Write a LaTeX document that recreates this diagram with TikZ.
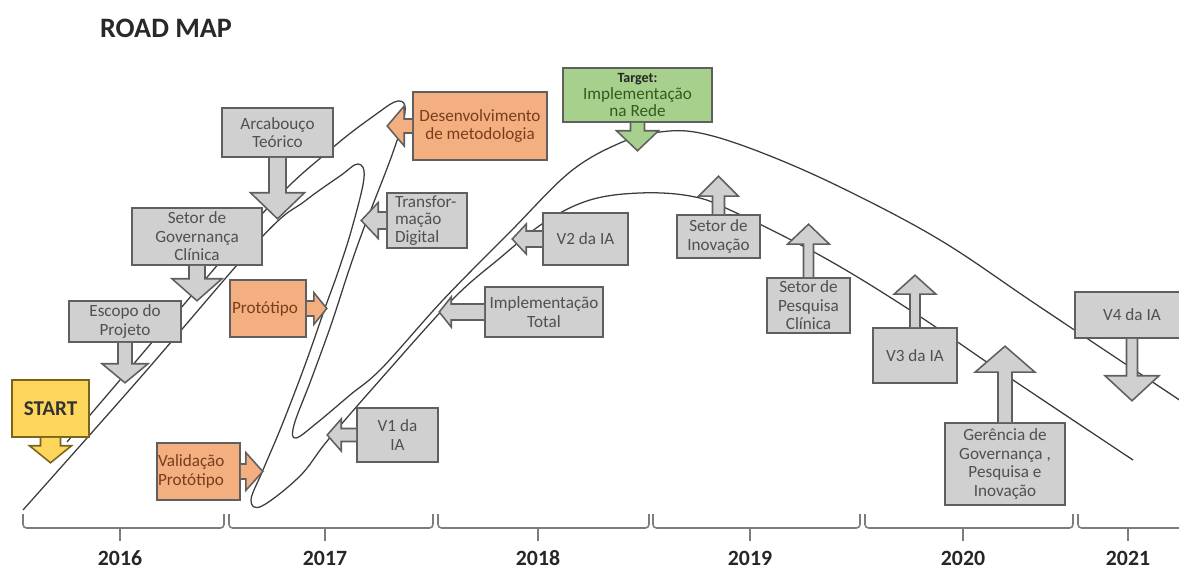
\documentclass[tikz,border=0pt]{standalone}
\usepackage{fontspec}
\setmainfont{Carlito}
\usetikzlibrary{calc}

\definecolor{boxgray}{RGB}{208,208,208}
\definecolor{boxline}{RGB}{95,95,95}
\definecolor{graytext}{RGB}{80,80,80}
\definecolor{boxorange}{RGB}{244,175,128}
\definecolor{orangetext}{RGB}{120,62,28}
\definecolor{boxgreen}{RGB}{168,208,141}
\definecolor{greentext}{RGB}{52,90,32}
\definecolor{boxyellow}{RGB}{255,214,92}
\definecolor{yellowline}{RGB}{120,100,30}
\definecolor{roadcol}{RGB}{60,60,60}
\definecolor{axiscol}{RGB}{125,125,125}
\definecolor{titlecol}{RGB}{40,40,40}

\newlength{\pxu}\setlength{\pxu}{0.025cm}
\newcommand{\boxfont}{\fontsize{12.2}{13.2}\selectfont}

% block arrow: style, base point, rotation, length, head length, shaft half width, head half width
\newcommand{\calloutarrow}[7]{%
  \draw[#1, shift={(#2)}, rotate=#3] (-#6,0) -- (-#6,#4-#5) -- (-#7,#4-#5)
    -- (0,#4) -- (#7,#4-#5) -- (#6,#4-#5) -- (#6,0);}

% year bracket: left, right, tick, label, name
\newcommand{\yearspan}[5]{%
  \draw[axisline] (#1,514) -- (#1,528) -- (#2,528) -- (#2,514);
  \draw[axisline] (#3,528) -- (#3,541);
  \node[yearlabel] (#5) at (#3,558) {#4};}

\begin{document}
\begin{tikzpicture}[x=0.025cm, y=-0.025cm,
  box/.style={draw=boxline, line width=1.1pt, fill=boxgray, text=graytext,
              font=\boxfont, align=center, inner sep=0pt},
  boxsize/.style 2 args={minimum width=#1*\pxu, minimum height=#2*\pxu},
  orangebox/.style={box, fill=boxorange, text=orangetext},
  greenbox/.style={box, fill=boxgreen, text=greentext},
  startbox/.style={box, fill=boxyellow, draw=yellowline, text=black!80},
  grayarrow/.style={draw=boxline, line width=1.1pt, fill=boxgray, line join=miter},
  orangearrow/.style={grayarrow, fill=boxorange},
  greenarrow/.style={grayarrow, fill=boxgreen},
  startarrow/.style={grayarrow, fill=boxyellow, draw=yellowline},
  road/.style={draw=roadcol, line width=0.9pt},
  axisline/.style={line width=1.1pt, draw=axiscol, rounded corners=2.5pt},
  yearlabel/.style={font=\fontsize{15.5}{17}\selectfont\bfseries, text=black!85}
]
\useasboundingbox (0,0) rectangle (1179,570);
\clip (0,0) rectangle (1179,570);

\node[font=\fontsize{20}{22}\selectfont\bfseries, text=titlecol] (title) at (166,28) {ROAD MAP};

% the road
\draw[road] plot[smooth, tension=0.6] coordinates {(23,510) (140,378) (262,237) (305,201)
  (340,176) (358,164) (364,178) (352,228) (338,272) (325,308) (305,365) (282,425) (263,470)
  (251,500) (262,506) (300,476) (328,440) (380,380) (452,300) (500,258) (545,222) (590,200)
  (640,193) (690,196) (730,210) (823,257) (913,312) (1013,380) (1133,460)};
\draw[road] plot[smooth, tension=0.6] coordinates {(67,442) (120,380) (263,213) (330,150)
  (375,115) (398,101) (405,112) (392,155) (365,225) (349,270) (331,325) (311,380) (294,425)
  (296,438) (318,422) (350,395) (382,368) (443,300) (510,232) (570,172) (620,143) (660,132)
  (700,133) (760,152) (840,187) (940,240) (1040,307) (1190,407)};

% milestones
\node[startbox, boxsize={77}{57}, font=\fontsize{15}{16}\selectfont\bfseries] (start) at (50.5,408.5) {START};
\node[box, boxsize={112}{41}] (escopo) at (125,321.5) {Escopo do\\Projeto};
\node[box, boxsize={130}{57}] (governanca) at (197,236.5) {Setor de\\Governança\\Clínica};
\node[box, boxsize={111}{49}] (arcabouco) at (277.5,132.5) {Arcabouço\\Teórico};
\node[orangebox, boxsize={76}{57}, align=left, text width=72*\pxu] (prototipo) at (268,308.5) {Protótipo};
\node[orangebox, boxsize={83}{57}, align=left, text width=81*\pxu] (validacao) at (198.5,471.5) {Validação\\Protótipo};
\node[orangebox, boxsize={134}{68}] (desenv) at (480,126) {Desenvolvimento\\de metodologia};
\node[box, boxsize={80}{55}, align=left, text width=64*\pxu, font=\fontsize{12.2}{12.6}\selectfont] (transf) at (427,220.5) {Transfor-\\mação\\Digital};
\node[box, boxsize={81}{54}] (v1) at (397.5,435) {V1 da\\IA};
\node[box, boxsize={118}{50}] (imptotal) at (544,312) {Implementação\\Total};
\node[box, boxsize={85}{52}] (v2) at (585.5,239) {V2 da IA};
\node[greenbox, boxsize={149}{54}, font=\fontsize{12.2}{12.4}\selectfont] (target) at (637.5,95)
  {{\fontsize{10}{11}\selectfont\bfseries\color{black!85}Target:}\\Implementação\\na Rede};
\node[box, boxsize={83}{43}] (inovacao) at (718.5,236.5) {Setor de\\Inovação};
\node[box, boxsize={83}{55}] (pesquisa) at (808.5,305.5) {Setor de\\Pesquisa\\Clínica};
\node[box, boxsize={84}{55}] (v3) at (915,355.5) {V3 da IA};
\node[box, boxsize={120}{82}] (gerencia) at (1005,464) {Gerência de\\Governança ,\\Pesquisa e\\Inovação};
\node[box, boxsize={114}{46}] (v4) at (1132,315) {V4 da IA};

\calloutarrow{startarrow}{start.south}{0}{25}{17}{10}{21}
\calloutarrow{grayarrow}{escopo.south}{0}{40}{19}{7}{23}
\calloutarrow{grayarrow}{governanca.south}{0}{35}{22}{8}{25}
\calloutarrow{grayarrow}{arcabouco.south}{0}{61}{26}{8.5}{27}
\calloutarrow{orangearrow}{prototipo.east}{90}{20}{13}{7.5}{16}
\calloutarrow{orangearrow}{validacao.east}{90}{22}{17}{7.5}{19}
\calloutarrow{orangearrow}{desenv.west}{-90}{25}{17}{7}{20}
\calloutarrow{grayarrow}{transf.west}{-90}{25}{17}{8.5}{18}
\calloutarrow{grayarrow}{v1.west}{-90}{29}{14}{6.5}{16}
\calloutarrow{grayarrow}{imptotal.west}{-90}{45}{12}{8}{15}
\calloutarrow{grayarrow}{v2.west}{-90}{30}{14}{8}{15}
\calloutarrow{greenarrow}{target.south}{0}{28}{20}{7}{21}
\calloutarrow{grayarrow}{inovacao.north}{180}{38}{20}{6}{20}
\calloutarrow{grayarrow}{pesquisa.north}{180}{53}{20}{5}{21}
\calloutarrow{grayarrow}{v3.north}{180}{52}{19}{5}{21}
\calloutarrow{grayarrow}{gerencia.north}{180}{76}{26}{7}{30}
\calloutarrow{grayarrow}{v4.south}{0}{62}{25}{5.5}{27}

% time axis
\yearspan{23}{224}{120}{2016}{y2016}
\yearspan{229}{433}{325}{2017}{y2017}
\yearspan{438}{649}{538}{2018}{y2018}
\yearspan{653}{860}{750}{2019}{y2019}
\yearspan{865}{1073}{963}{2020}{y2020}
\yearspan{1078}{1200}{1128}{2021}{y2021}
\end{tikzpicture}
\end{document}
